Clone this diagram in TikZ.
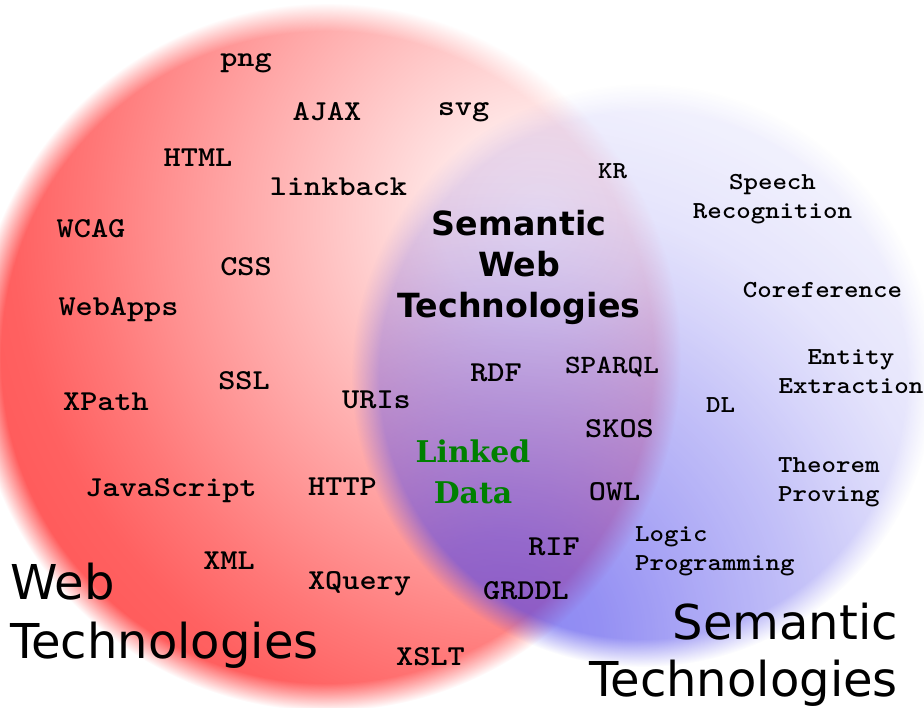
\documentclass[tikz,border=0pt]{standalone}
\usepackage{fontspec}
\usepackage{graphicx}
\usetikzlibrary{fadings}
\newfontfamily\dvsans{DejaVu Sans}
\newfontfamily\dvserif{DejaVu Serif}

% Web technologies disc colour: pale around its upper right, deep red far from it
\pgfdeclareradialshading{webshade}{\pgfpointorigin}{%
  rgb(0bp)=(1,0.95,0.95);
  rgb(100bp)=(1,0.90,0.90);
  rgb(200bp)=(1,0.78,0.78);
  rgb(300bp)=(1,0.66,0.66);
  rgb(380bp)=(1,0.56,0.56);
  rgb(450bp)=(1,0.47,0.47);
  rgb(530bp)=(1,0.38,0.38);
  rgb(600bp)=(1,0.35,0.35);
  rgb(800bp)=(1,0.35,0.35)}

% soft rims of the two discs
\pgfdeclareradialshading{webedgemask}{\pgfpointorigin}{%
  color(0bp)=(pgftransparent!0);
  color(326bp)=(pgftransparent!0);
  color(354bp)=(pgftransparent!100);
  color(380bp)=(pgftransparent!100)}
\pgfdeclarefading{webedge}{\pgfuseshading{webedgemask}}
\pgfdeclareradialshading{semedgemask}{\pgfpointorigin}{%
  color(0bp)=(pgftransparent!0);
  color(264bp)=(pgftransparent!0);
  color(292bp)=(pgftransparent!100);
  color(310bp)=(pgftransparent!100)}
\pgfdeclarefading{semedge}{\pgfuseshading{semedgemask}}

% semantic disc: strong blue at the lower left, thinning out to the upper right
\pgfdeclareradialshading{semalphamask}{\pgfpointorigin}{%
  color(0bp)=(pgftransparent!36);
  color(100bp)=(pgftransparent!42);
  color(200bp)=(pgftransparent!55);
  color(300bp)=(pgftransparent!67);
  color(380bp)=(pgftransparent!78);
  color(450bp)=(pgftransparent!86);
  color(550bp)=(pgftransparent!92);
  color(650bp)=(pgftransparent!94);
  color(720bp)=(pgftransparent!94)}
\pgfdeclarefading{semalpha}{\pgfuseshading{semalphamask}}

\definecolor{semblue}{RGB}{72,64,235}
\definecolor{linkgreen}{RGB}{0,128,0}

\newcommand\wide[1]{\scalebox{1.13}[1]{#1}}
\newcommand\rows[2][c]{\begin{tabular}[t]{@{}#1@{}}#2\end{tabular}}

\tikzset{
  lab/.style={font=\fontsize{29}{34}\selectfont\ttfamily\bfseries, inner sep=0pt, anchor=base},
  labmid/.style={font=\fontsize{26.5}{32}\selectfont\ttfamily\bfseries, inner sep=0pt, anchor=base},
  labsmall/.style={font=\fontsize{24.5}{30}\selectfont\ttfamily\bfseries, inner sep=0pt, anchor=base},
  title/.style={inner sep=0pt},
}

\begin{document}
\begin{tikzpicture}[x=1bp,y=1bp]
\fill[white] (0,0) rectangle (924,-708);
\useasboundingbox (0,0) rectangle (924,-708);

% Web technologies disc, centre (327,-357), soft rim
\begin{scope}
  \pgfsetfading{webedge}{\pgftransformshift{\pgfpoint{327bp}{-357bp}}}
  \begin{scope}[transparency group]
    \clip (327,-357) circle (354);
    \pgftransformshift{\pgfpoint{540bp}{-220bp}}
    \pgflowlevelsynccm
    \pgfuseshading{webshade}
  \end{scope}
\end{scope}

% Semantic technologies disc, centre (643,-375), laid over it
\begin{scope}
  \pgfsetfading{semedge}{\pgftransformshift{\pgfpoint{643bp}{-375bp}}}
  \begin{scope}[transparency group]
    \pgfsetfading{semalpha}{\pgftransformshift{\pgfpoint{500bp}{-640bp}}}
    \fill[semblue] (643,-375) circle (292);
  \end{scope}
\end{scope}

% web side
\node[lab] (png) at (246,-66.7) {\wide{png}};
\node[lab] (ajax) at (327,-120.7) {\wide{AJAX}};
\node[lab] (svg) at (463.5,-115.5) {\wide{svg}};
\node[lab] (html) at (198,-167) {\wide{HTML}};
\node[lab] (linkback) at (338.5,-195) {\wide{linkback}};
\node[lab] (wcag) at (91,-237) {\wide{WCAG}};
\node[lab] (css) at (246,-275) {\wide{CSS}};
\node[lab] (webapps) at (118.5,-315) {\wide{WebApps}};
\node[lab] (ssl) at (244,-389) {\wide{SSL}};
\node[lab] (xpath) at (106,-410.7) {\wide{XPath}};
\node[lab] (uris) at (376.5,-408) {\wide{URIs}};
\node[lab] (js) at (171,-496) {\wide{JavaScript}};
\node[lab] (http) at (342.5,-495) {\wide{HTTP}};
\node[lab] (xml) at (229,-569) {\wide{XML}};
\node[lab] (xquery) at (359.5,-589) {\wide{XQuery}};
\node[lab] (xslt) at (430.5,-665.7) {\wide{XSLT}};

% semantic web
\node[lab] (rdf) at (496,-381) {\wide{RDF}};
\node[labmid] (sparql) at (612,-373) {\wide{SPARQL}};
\node[lab] (skos) at (619.5,-437) {\wide{SKOS}};
\node[lab] (owl) at (614.5,-500.7) {\wide{OWL}};
\node[lab] (rif) at (554,-555) {\wide{RIF}};
\node[lab] (grddl) at (526,-599) {\wide{GRDDL}};

% semantic side
\node[labsmall] (kr) at (612.5,-179) {\wide{KR}};
\node[labsmall] (speech) at (772.5,-189) {\rows{\wide{Speech}\\\wide{Recognition}}};
\node[labsmall] (coref) at (822.5,-297.7) {\wide{Coreference}};
\node[labsmall] (entity) at (851,-364) {\rows{\wide{Entity}\\\wide{Extraction}}};
\node[labsmall] (dl) at (720.5,-412) {\wide{DL}};
\node[labsmall, anchor=base west] (theorem) at (778,-472) {\rows[l]{\wide{Theorem}\\\wide{Proving}}};
\node[labsmall, anchor=base west] (logic) at (635,-541) {\rows[l]{\wide{Logic}\\\wide{Programming}}};

% headings
\node[title, anchor=base, font=\fontsize{33.4}{41.5}\selectfont\dvsans\bfseries] (swt) at (519,-235)
  {\rows{Semantic\\Web\\Technologies}};
\node[title, anchor=base, text=linkgreen, font=\fontsize{30}{41.5}\selectfont\dvserif\bfseries] (ld) at (473,-462.5)
  {\rows{Linked\\Data}};
\node[title, anchor=base west, font=\fontsize{48.2}{60}\selectfont\dvsans] (webtech) at (10,-599)
  {\rows[l]{Web\\Technologies}};
\node[title, anchor=base east, font=\fontsize{48.2}{58}\selectfont\dvsans] (semtech) at (898,-639)
  {\rows[r]{Semantic\\Technologies}};
\end{tikzpicture}
\end{document}
